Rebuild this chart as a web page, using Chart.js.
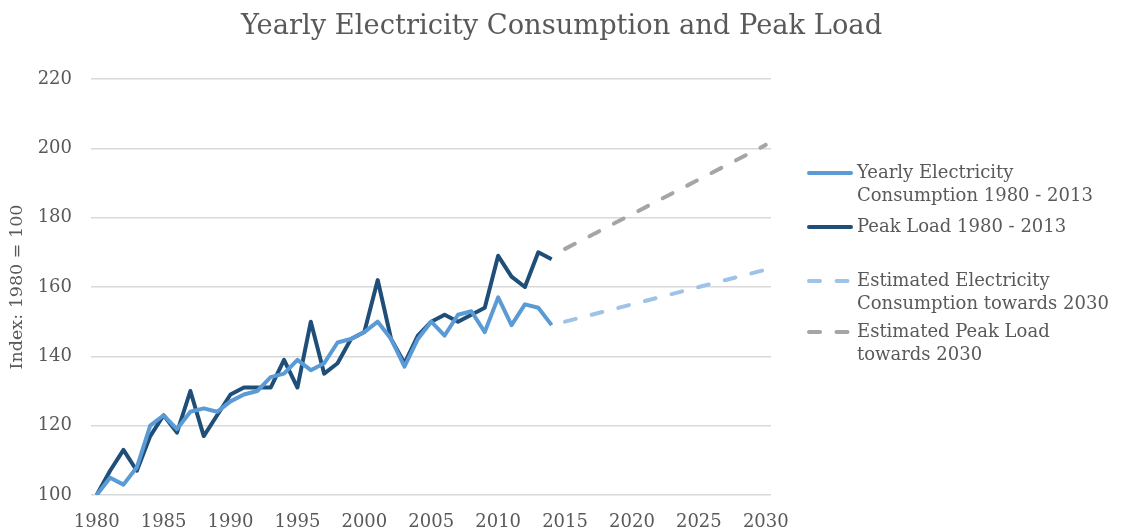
<!DOCTYPE html>
<html>
<head>
<meta charset="utf-8">
<title>Yearly Electricity Consumption and Peak Load</title>
<script src="https://cdn.jsdelivr.net/npm/chart.js@4"></script>
<style>
  html, body { margin: 0; padding: 0; background: #fff; }
  #wrap { width: 1123px; height: 531px; position: relative; }
</style>
</head>
<body>
<div id="wrap"><canvas id="loadChart"></canvas></div>
<script>
// historic series, index 1980 = 100
const years = [1980, 1981, 1982, 1983, 1984, 1985, 1986, 1987, 1988, 1989,
  1990, 1991, 1992, 1993, 1994, 1995, 1996, 1997, 1998, 1999,
  2000, 2001, 2002, 2003, 2004, 2005, 2006, 2007, 2008, 2009,
  2010, 2011, 2012, 2013, 2014];
const consumption = [100, 105, 103, 108, 120, 123, 119, 124, 125, 124,
  127, 129, 130, 134, 135, 139, 136, 138, 144, 145,
  147, 150, 145, 137, 145, 150, 146, 152, 153, 147,
  157, 149, 155, 154, 149];
const peakLoad = [100, 107, 113, 107, 117, 123, 118, 130, 117, 123,
  129, 131, 131, 131, 139, 131, 150, 135, 138, 145,
  147, 162, 145, 138, 146, 150, 152, 150, 152, 154,
  169, 163, 160, 170, 168];

// estimates towards 2030
const estYears = [2015, 2020, 2025, 2030];
const estConsumption = [150, 155, 160, 165];
const estPeakLoad = [171, 181, 191, 201];

const xTicks = [1980, 1985, 1990, 1995, 2000, 2005, 2010, 2015, 2020, 2025, 2030];
const yTicks = [100, 120, 140, 160, 180, 200, 220];

const chartTitle = 'Yearly Electricity Consumption and Peak Load';
const legendLines = [
  ['Yearly Electricity', 'Consumption 1980 - 2013'],
  ['Peak Load 1980 - 2013'],
  ['Estimated Electricity', 'Consumption towards 2030'],
  ['Estimated Peak Load', 'towards 2030']
];

const FONT = '"DejaVu Serif", Georgia, serif';
const TEXT = '#595959';
const DASH = [11, 16.5];

function pts(xs, ys) {
  return xs.map((x, i) => ({ x: x, y: ys[i] }));
}

// title centred on the whole canvas, legend on the right
const decorations = {
  id: 'decorations',
  afterDraw(chart) {
    const c = chart.ctx;
    c.save();
    c.fillStyle = TEXT;
    c.font = '27.3px ' + FONT;
    c.textAlign = 'center';
    c.textBaseline = 'middle';
    c.fillText(chartTitle, chart.width / 2, 27);

    const rows = [173, 227, 281, 332];
    const lineH = 23;
    c.textAlign = 'left';
    c.font = '18px ' + FONT;
    chart.data.datasets.forEach((ds, i) => {
      const y = rows[i];
      c.beginPath();
      c.strokeStyle = ds.borderColor;
      c.lineWidth = ds.borderWidth;
      c.lineCap = 'round';
      c.setLineDash(ds.borderDash || []);
      c.moveTo(809, y);
      c.lineTo(851, y);
      c.stroke();
      c.setLineDash([]);
      c.fillStyle = TEXT;
      legendLines[i].forEach((t, j) => c.fillText(t, 857, y + j * lineH));
    });
    c.restore();
  }
};

const chart = new Chart(document.getElementById('loadChart'), {
  type: 'line',
  data: {
    datasets: [
      {
        label: 'Yearly Electricity Consumption 1980 - 2013',
        data: pts(years, consumption),
        borderColor: '#5B9BD5',
        borderWidth: 4
      },
      {
        label: 'Peak Load 1980 - 2013',
        data: pts(years, peakLoad),
        borderColor: '#1F4E79',
        borderWidth: 4
      },
      {
        label: 'Estimated Electricity Consumption towards 2030',
        data: pts(estYears, estConsumption),
        borderColor: '#9DC3E6',
        borderWidth: 4,
        borderDash: DASH,
        borderCapStyle: 'round'
      },
      {
        label: 'Estimated Peak Load towards 2030',
        data: pts(estYears, estPeakLoad),
        borderColor: '#A5A5A5',
        borderWidth: 4,
        borderDash: DASH,
        borderCapStyle: 'round'
      }
    ]
  },
  options: {
    responsive: true,
    maintainAspectRatio: false,
    animation: false,
    parsing: false,
    elements: {
      point: { radius: 0 },
      line: { tension: 0, borderJoinStyle: 'round' }
    },
    layout: {
      padding: { left: 0, right: 352, top: 79, bottom: 0 }
    },
    scales: {
      x: {
        type: 'linear',
        min: 1979.574,
        max: 2030.39,
        grid: { display: false },
        border: { display: false },
        afterBuildTicks: (s) => { s.ticks = xTicks.map(v => ({ value: v })); },
        afterFit: (s) => { s.height = 36; },
        ticks: {
          color: TEXT,
          padding: 9,
          maxRotation: 0,
          autoSkip: false,
          font: { family: FONT, size: 18 },
          callback: (v) => String(v)
        }
      },
      y: {
        min: 100,
        max: 220,
        afterBuildTicks: (s) => { s.ticks = yTicks.map(v => ({ value: v })); },
        afterFit: (s) => { s.width = 91; },
        grid: { color: '#D9D9D9', lineWidth: 1.5, drawTicks: false },
        border: { display: false },
        ticks: {
          color: TEXT,
          padding: 19,
          font: { family: FONT, size: 18 }
        },
        title: {
          display: true,
          text: 'Index: 1980 = 100',
          color: TEXT,
          font: { family: FONT, size: 17.5 },
          padding: { top: 7, bottom: 0 }
        }
      }
    },
    plugins: {
      legend: { display: false },
      tooltip: { enabled: false },
      title: { display: false }
    }
  },
  plugins: [decorations]
});
</script>
</body>
</html>
